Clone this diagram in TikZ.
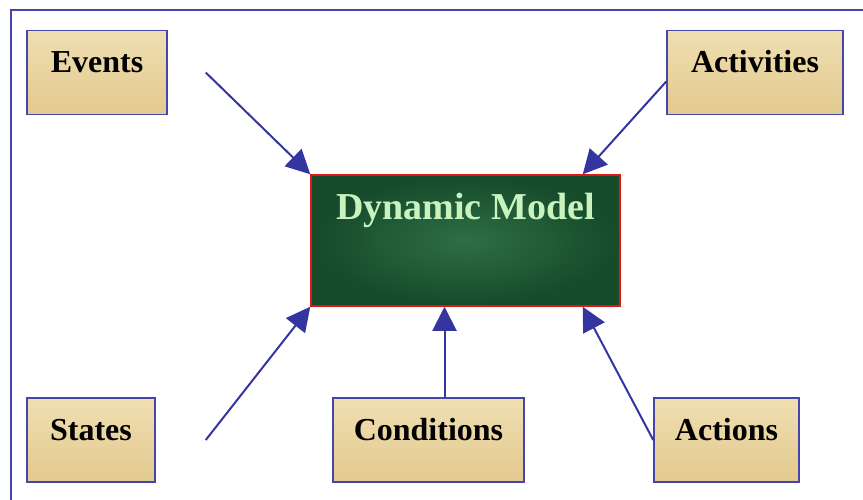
\documentclass[tikz,border=0pt]{standalone}
\usepackage{fontspec}
\setmainfont{Liberation Serif}
\usetikzlibrary{arrows.meta}
\definecolor{frame-blue}{HTML}{4646AA}
\definecolor{arrow-blue}{HTML}{3535A2}
\definecolor{paper-light}{HTML}{F0DFB2}
\definecolor{paper-dark}{HTML}{E2C98E}
\definecolor{marble-dark}{HTML}{154A2A}
\definecolor{marble-light}{HTML}{2E6E46}
\definecolor{mint}{HTML}{C8F3BF}
\definecolor{edge-red}{HTML}{E31515}

\begin{document}
\begin{tikzpicture}[x=1pt, y=-1pt,
        paper/.style={draw=frame-blue, line width=1.5pt, inner sep=0pt,
            top color=paper-light, bottom color=paper-dark,
            minimum height=84pt, text height=22pt, text depth=22pt,
            font=\fontsize{32}{36}\selectfont\bfseries},
        dmbox/.style={draw=edge-red, line width=1.5pt, inner sep=0pt,
            inner color=marble-light, outer color=marble-dark,
            minimum width=309pt, minimum height=131pt,
            text height=26pt, text depth=69pt, text=mint,
            font=\fontsize{38}{42}\selectfont\bfseries},
        feed/.style={arrow-blue, line width=2pt,
            -{Triangle[length=24pt, width=24pt]}}]
      \useasboundingbox (0,0) rectangle (863,499);
      % outer frame
      \draw[frame-blue, line width=2pt] (11,10) rectangle (900,540);
      % centre
      \node[dmbox] (dm) at (465.5,240.5) {Dynamic Model};
      % top boxes
      \node[paper, minimum width=140pt] (events) at (97,72.5) {Events};
      \node[paper, minimum width=176pt] (activities) at (755,72.5) {Activities};
      % bottom boxes
      \node[paper, minimum width=128pt] (states) at (91,440) {States};
      \node[paper, minimum width=191pt] (conditions) at (428.5,440) {Conditions};
      \node[paper, minimum width=145pt] (actions) at (726.5,440) {Actions};
      % arrows into the model
      \draw[feed] ([xshift=38pt]events.east) -- (dm.north west);
      \draw[feed] ([yshift=-9pt]activities.west) -- ([xshift=-38pt]dm.north east);
      \draw[feed] ([xshift=50pt]states.east) -- (dm.south west);
      \draw[feed] ([xshift=16pt]conditions.north) -- ([xshift=16pt]conditions.north |- dm.south);
      \draw[feed] (actions.west) -- ([xshift=-38pt]dm.south east);
    \end{tikzpicture}
\end{document}
